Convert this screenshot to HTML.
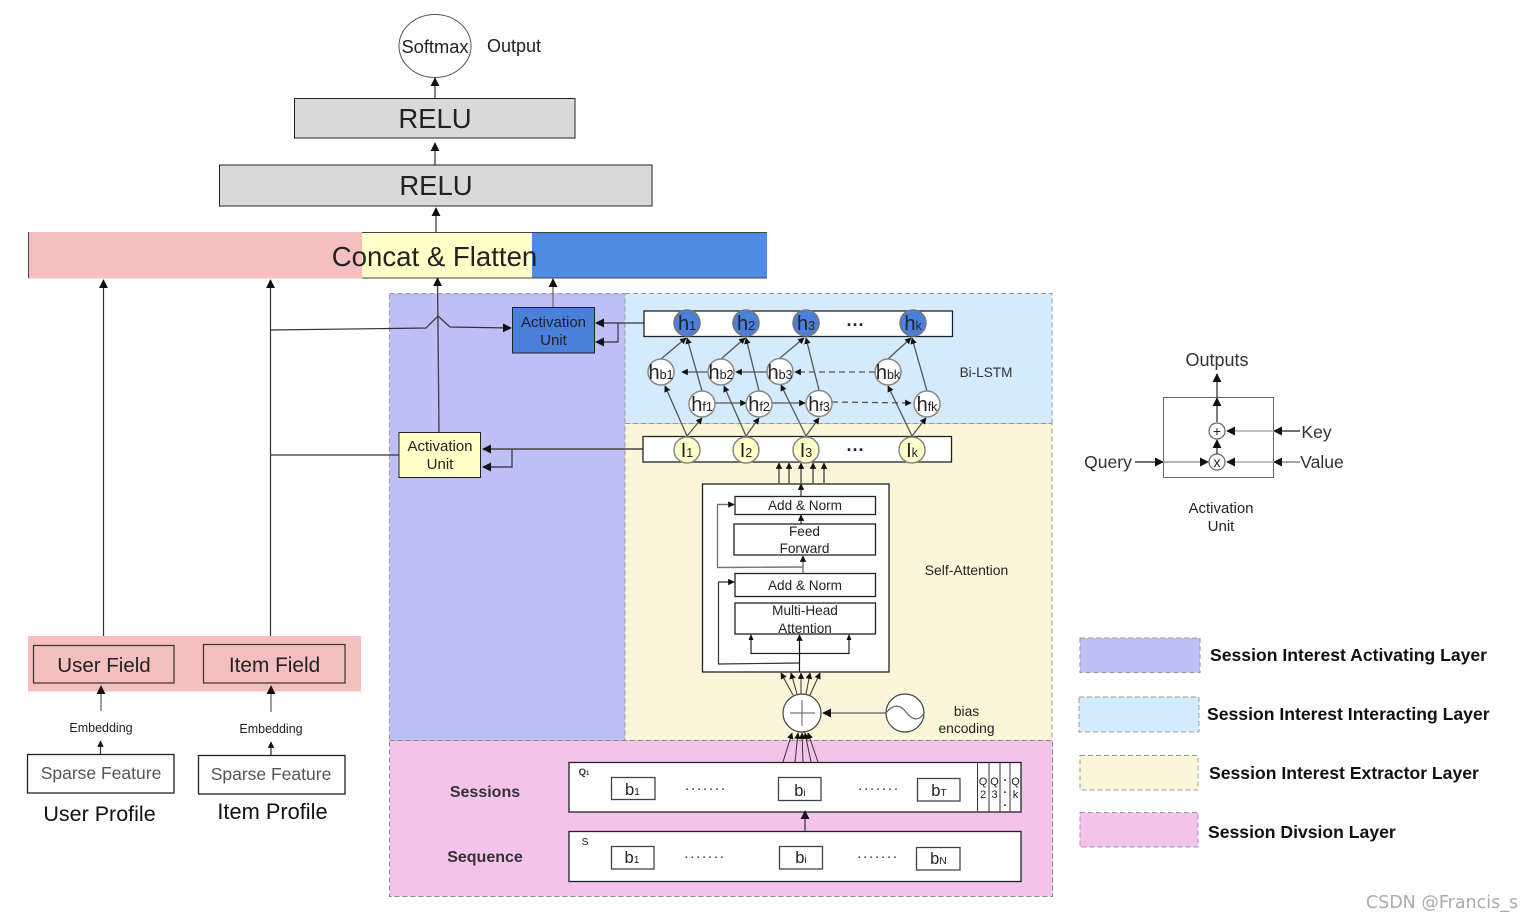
<!DOCTYPE html>
<html><head><meta charset="utf-8"><style>
html,body{margin:0;padding:0;background:#fff;width:1534px;height:922px;overflow:hidden}
svg{display:block;filter:blur(.35px)}
text{font-family:"Liberation Sans",sans-serif;fill:#222;text-anchor:middle}
.b{fill:#fff;stroke:#222;stroke-width:1.3}
.l{fill:none;stroke:#333;stroke-width:1.2}
.g{fill:none;stroke:#777;stroke-width:1.4}
.lg{font-weight:bold;font-size:17.6px;text-anchor:start;fill:#111}
.cw{fill:#fff;stroke:#888;stroke-width:1.5}
.cb{fill:#4a80dc;stroke:#777;stroke-width:1.5}
.cy{fill:#ffffc8;stroke:#888;stroke-width:1.5}
.n{font-size:20px}.s{font-size:12.500px}
</style></head><body>
<svg width="1534" height="922" viewBox="0 0 1534 922" xmlns="http://www.w3.org/2000/svg">
<defs>
<marker id="a" viewBox="0 0 10 10" refX="9" refY="5" markerWidth="9" markerHeight="9" markerUnits="userSpaceOnUse" orient="auto"><path d="M0 0L10 5L0 10z" fill="#111"/></marker>
<marker id="m" viewBox="0 0 10 10" refX="9" refY="5" markerWidth="6.5" markerHeight="6.5" markerUnits="userSpaceOnUse" orient="auto"><path d="M0 0L10 5L0 10z" fill="#111"/></marker>
</defs>

<!-- Regions -->
<rect x="389.5" y="293.5" width="236" height="447" fill="#bfbff8" stroke="#999" stroke-dasharray="5 3"/>
<rect x="625" y="293.5" width="427" height="130" fill="#d3ebfc" stroke="#999" stroke-dasharray="5 3"/>
<rect x="625" y="423.5" width="427" height="317" fill="#fbf6d9" stroke="#999" stroke-dasharray="5 3"/>
<rect x="389.5" y="740.5" width="663" height="156" fill="#f3c3ec" stroke="#888" stroke-dasharray="5 3"/>

<!-- Top stack -->
<ellipse cx="435" cy="46" rx="36" ry="31.5" fill="#fff" stroke="#555" stroke-width="1"/>
<text x="435" y="53" font-size="18.300">Softmax</text>
<text x="514" y="52" font-size="18">Output</text>
<line class="l" x1="435" y1="98" x2="435" y2="78" marker-end="url(#a)"/>
<rect x="294.5" y="98.5" width="280.5" height="39.5" fill="#d9d9d9" stroke="#222"/>
<text x="435" y="128" font-size="27.500">RELU</text>
<line class="l" x1="435" y1="165" x2="435" y2="143" marker-end="url(#a)"/>
<rect x="219.5" y="165" width="432.5" height="41" fill="#d9d9d9" stroke="#222"/>
<text x="436" y="195" font-size="27.500">RELU</text>
<line class="l" x1="436" y1="232" x2="436" y2="208" marker-end="url(#a)"/>

<!-- Concat -->
<rect x="28" y="232" width="334" height="46.5" fill="#f5bfbf"/>
<rect x="362" y="232" width="170" height="46" fill="#ffffc8"/>
<rect x="532" y="232" width="235" height="46" fill="#4f8ae5"/>
<line x1="362" y1="232.500" x2="767" y2="232.500" stroke="#444" stroke-width="1"/>
<line x1="362" y1="278" x2="767" y2="278" stroke="#444" stroke-width="1"/>
<line x1="28.500" y1="232" x2="28.500" y2="278" stroke="#444" stroke-width="1"/>
<text x="434.500" y="266" font-size="27.600">Concat &amp; Flatten</text>

<!-- Left column -->
<line class="l" x1="103.500" y1="645" x2="103.500" y2="280" marker-end="url(#a)"/>
<line class="l" x1="270.500" y1="644" x2="270.500" y2="280" marker-end="url(#a)"/>
<rect x="28" y="636" width="333" height="55.500" fill="#f5bfbf"/>
<rect x="33.500" y="645.500" width="140.500" height="37.500" fill="#f5bfbf" stroke="#333" stroke-width="1.2"/>
<rect x="203.500" y="644.500" width="141.500" height="38.500" fill="#f5bfbf" stroke="#333" stroke-width="1.2"/>
<text x="104" y="672" font-size="20.500">User Field</text>
<text x="274.500" y="672" font-size="20.800">Item Field</text>
<line class="g" x1="101" y1="711" x2="101" y2="686" marker-end="url(#a)"/>
<line class="g" x1="271" y1="712" x2="271" y2="686" marker-end="url(#a)"/>
<text x="101" y="732" font-size="12.500">Embedding</text>
<text x="271" y="733" font-size="12.500">Embedding</text>
<line class="l" x1="100.500" y1="754" x2="100.500" y2="741" marker-end="url(#m)"/>
<line class="l" x1="271" y1="755" x2="271" y2="742" marker-end="url(#m)"/>
<rect class="b" x="27.500" y="754.500" width="146.500" height="38.500"/>
<rect class="b" x="198.500" y="755.500" width="146.500" height="38.500"/>
<text x="101" y="779" font-size="17.500" style="fill:#555">Sparse Feature</text>
<text x="271" y="780" font-size="17.500" style="fill:#555">Sparse Feature</text>
<text x="99.500" y="821" font-size="21.500" style="fill:#111">User Profile</text>
<text x="272.500" y="819" font-size="21.800" style="fill:#111">Item Profile</text>

<!-- Activation units and their connectors -->
<path class="l" d="M270.500 330L426 328L438 316L450 327L511 328" marker-end="url(#a)"/>
<line class="l" x1="270.500" y1="455" x2="399" y2="455"/>
<line class="g" x1="439" y1="432" x2="437.500" y2="278" marker-end="url(#a)" style="stroke:#444"/>
<rect x="512.500" y="307.500" width="82" height="45.500" fill="#4a80dc" stroke="#222"/>
<text x="553.500" y="327" font-size="15">Activation</text>
<text x="553.500" y="345" font-size="15">Unit</text>
<line class="g" x1="553" y1="307" x2="553" y2="279" marker-end="url(#a)"/>
<rect x="399" y="432.500" width="81.500" height="45" fill="#ffffc8" stroke="#222"/>
<text x="440" y="451" font-size="15">Activation</text>
<text x="440" y="469" font-size="15">Unit</text>
<line class="l" x1="644" y1="323" x2="596" y2="323" marker-end="url(#a)"/>
<path class="l" d="M618 323V342H596" marker-end="url(#a)"/>
<line class="g" x1="643" y1="449" x2="483" y2="449" marker-end="url(#a)" style="stroke:#444"/>
<path class="g" d="M512 449V467H483" marker-end="url(#a)" style="stroke:#444"/>

<!-- h row -->
<rect class="b" x="644" y="311" width="308.500" height="25.500"/>
<rect class="b" x="643" y="436.500" width="308.500" height="25.500"/>

<!-- Bi-LSTM edges -->
<g class="g" style="stroke:#555;stroke-width:1.3">
<line x1="687" y1="436" x2="665" y2="386" marker-end="url(#m)"/>
<line x1="687" y1="436" x2="702" y2="418" marker-end="url(#m)"/>
<line x1="746" y1="436" x2="724" y2="386" marker-end="url(#m)"/>
<line x1="746" y1="436" x2="759" y2="418" marker-end="url(#m)"/>
<line x1="806" y1="436" x2="781" y2="385" marker-end="url(#m)"/>
<line x1="806" y1="436" x2="819" y2="418" marker-end="url(#m)"/>
<line x1="912" y1="436" x2="888" y2="386" marker-end="url(#m)"/>
<line x1="912" y1="436" x2="926" y2="418" marker-end="url(#m)"/>
<line x1="661" y1="359" x2="686" y2="338" marker-end="url(#m)"/>
<line x1="702" y1="391" x2="687" y2="338" marker-end="url(#m)"/>
<line x1="721" y1="359" x2="745" y2="338" marker-end="url(#m)"/>
<line x1="759" y1="391" x2="746" y2="338" marker-end="url(#m)"/>
<line x1="780" y1="358" x2="804" y2="338" marker-end="url(#m)"/>
<line x1="819" y1="390" x2="806" y2="338" marker-end="url(#m)"/>
<line x1="888" y1="359" x2="911" y2="338" marker-end="url(#m)"/>
<line x1="927" y1="391" x2="912" y2="338" marker-end="url(#m)"/>
<line x1="708" y1="372" x2="682" y2="372" marker-end="url(#m)"/>
<line x1="767" y1="372" x2="736" y2="372" marker-end="url(#m)"/>
<line x1="875" y1="372" x2="795" y2="372" stroke-dasharray="6 4" marker-end="url(#m)"/>
<line x1="715" y1="403" x2="746" y2="403" marker-end="url(#m)"/>
<line x1="772" y1="403" x2="805" y2="403" marker-end="url(#m)"/>
<line x1="832" y1="402" x2="911" y2="403" stroke-dasharray="6 4" marker-end="url(#m)"/>
</g>

<!-- h circles -->
<g class="t">
<circle class="cb" cx="687" cy="323" r="13"/><text x="687" y="330"><tspan class="n">h</tspan><tspan class="s">1</tspan></text>
<circle class="cb" cx="746" cy="323" r="13"/><text x="746" y="330"><tspan class="n">h</tspan><tspan class="s">2</tspan></text>
<circle class="cb" cx="806" cy="323" r="13"/><text x="806" y="330"><tspan class="n">h</tspan><tspan class="s">3</tspan></text>
<circle class="cb" cx="913" cy="323" r="13"/><text x="913" y="330"><tspan class="n">h</tspan><tspan class="s">k</tspan></text>
<text x="855.500" y="331" font-size="18" font-weight="bold">···</text>

<circle class="cw" cx="661" cy="372" r="13"/><text x="661" y="379"><tspan class="n">h</tspan><tspan class="s">b1</tspan></text>
<circle class="cw" cx="721" cy="372" r="13"/><text x="721" y="379"><tspan class="n">h</tspan><tspan class="s">b2</tspan></text>
<circle class="cw" cx="780" cy="371.500" r="13"/><text x="780" y="379"><tspan class="n">h</tspan><tspan class="s">b3</tspan></text>
<circle class="cw" cx="888" cy="372" r="13"/><text x="888" y="379"><tspan class="n">h</tspan><tspan class="s">bk</tspan></text>
<circle class="cw" cx="702" cy="404" r="13"/><text x="702" y="411"><tspan class="n">h</tspan><tspan class="s">f1</tspan></text>
<circle class="cw" cx="759" cy="404" r="13"/><text x="759" y="411"><tspan class="n">h</tspan><tspan class="s">f2</tspan></text>
<circle class="cw" cx="819" cy="403.500" r="13"/><text x="819" y="411"><tspan class="n">h</tspan><tspan class="s">f3</tspan></text>
<circle class="cw" cx="927" cy="404" r="13"/><text x="927" y="411"><tspan class="n">h</tspan><tspan class="s">fk</tspan></text>

<circle class="cy" cx="687" cy="450" r="13"/><text x="687" y="457"><tspan class="n">I</tspan><tspan class="s">1</tspan></text>
<circle class="cy" cx="746" cy="450" r="13"/><text x="746" y="457"><tspan class="n">I</tspan><tspan class="s">2</tspan></text>
<circle class="cy" cx="806" cy="450" r="13"/><text x="806" y="457"><tspan class="n">I</tspan><tspan class="s">3</tspan></text>
<circle class="cy" cx="912" cy="450" r="13"/><text x="912" y="457"><tspan class="n">I</tspan><tspan class="s">k</tspan></text>
<text x="855.500" y="456" font-size="18" font-weight="bold">···</text>
</g>
<text x="986" y="377" font-size="13.600" style="fill:#333">Bi-LSTM</text>

<!-- Self attention -->
<g class="l">
<line x1="779" y1="483" x2="779" y2="463" marker-end="url(#m)"/>
<line x1="789" y1="483" x2="789" y2="463" marker-end="url(#m)"/>
<line x1="801" y1="483" x2="801" y2="463" marker-end="url(#m)"/>
<line x1="813" y1="483" x2="813" y2="463" marker-end="url(#m)"/>
<line x1="824" y1="483" x2="824" y2="463" marker-end="url(#m)"/>
</g>
<rect class="b" x="702.500" y="484" width="186.500" height="188"/>
<line class="l" x1="801" y1="496" x2="801" y2="484" marker-end="url(#m)"/>
<rect class="b" x="735" y="496.500" width="140.500" height="18"/>
<line class="l" x1="801" y1="524" x2="801" y2="515" marker-end="url(#m)"/>
<rect class="b" x="734" y="524" width="141.500" height="31"/>
<rect class="b" x="735" y="573.500" width="140.500" height="23"/>
<rect class="b" x="735" y="603" width="140.500" height="31"/>
<line class="g" x1="803" y1="573" x2="803" y2="556" marker-end="url(#m)"/>
<path class="g" d="M803 567L717.500 567.500V504.500H734" marker-end="url(#m)"/>
<path class="l" d="M799 663L718.500 664V582H734" marker-end="url(#m)"/>
<line x1="799.500" y1="672" x2="799.500" y2="635" stroke="#111" stroke-width="1.2" marker-end="url(#m)"/>
<path d="M751 635V653.500H849V635" fill="none" stroke="#222" stroke-width="1.2"/>
<path d="M751 634l-2.500 6h5z M849 634l-2.500 6h5z" fill="#111"/>
<text x="805" y="510" font-size="13.600">Add &amp; Norm</text>
<text x="804.500" y="536" font-size="13.600">Feed</text>
<text x="804.500" y="553" font-size="13.600">Forward</text>
<text x="805" y="590" font-size="13.600">Add &amp; Norm</text>
<text x="805" y="615" font-size="13.600">Multi-Head</text>
<text x="805" y="633" font-size="13.600">Attention</text>
<text x="966.500" y="575" font-size="13.900">Self-Attention</text>

<!-- Plus and bias -->
<g class="l" style="stroke-width:1">
<line x1="793" y1="695" x2="781" y2="673" marker-end="url(#m)"/>
<line x1="797" y1="694" x2="791" y2="673" marker-end="url(#m)"/>
<line x1="801" y1="694" x2="801" y2="673" marker-end="url(#m)"/>
<line x1="806" y1="694" x2="810" y2="673" marker-end="url(#m)"/>
<line x1="810" y1="695" x2="820" y2="673" marker-end="url(#m)"/>
</g>
<circle cx="802" cy="713" r="19" fill="#fff" stroke="#444" stroke-width="1.2"/>
<path d="M802 700V726M790 713H815" stroke="#777" stroke-width="1.2" fill="none"/>
<line class="g" x1="886" y1="713" x2="823" y2="713" marker-end="url(#a)"/>
<circle cx="905" cy="713" r="19" fill="#fff" stroke="#444" stroke-width="1.2"/>
<path d="M886 713C893 704 900 704 906 712S919 722 924 713" fill="none" stroke="#666" stroke-width="1.2"/>
<text x="966.500" y="716" font-size="13.800">bias</text>
<text x="966.500" y="733" font-size="13.800">encoding</text>

<g class="l" style="stroke-width:1">
<line x1="783" y1="762" x2="792" y2="733" marker-end="url(#m)"/>
<line x1="795" y1="762" x2="798" y2="733" marker-end="url(#m)"/>
<line x1="803" y1="762" x2="802" y2="733" marker-end="url(#m)"/>
<line x1="811" y1="762" x2="805" y2="733" marker-end="url(#m)"/>
<line x1="818" y1="762" x2="808" y2="733" marker-end="url(#m)"/>
</g>

<!-- Sessions -->
<rect class="b" x="569" y="762.500" width="452" height="49.500"/>
<rect class="b" x="569" y="831.500" width="452" height="50"/>
<line class="l" x1="805" y1="831" x2="805" y2="811" marker-end="url(#a)"/>
<path d="M977.500 762V812M989 762V812M1000 762V812M1010 762V812" stroke="#333" stroke-width="1" fill="none"/>
<text x="584" y="775" font-size="9.500" font-weight="bold" style="fill:#333">Q<tspan font-size="6">1</tspan></text>
<text x="585" y="845" font-size="10.500">S</text>
<g class="b" style="stroke:#444">
<rect x="611.500" y="777.500" width="43.500" height="22"/>
<rect x="778.500" y="777.500" width="42.500" height="23"/>
<rect x="917.500" y="778.500" width="42.500" height="22.500"/>
<rect x="611.500" y="846.500" width="42.500" height="22.500"/>
<rect x="779.500" y="846.500" width="43" height="22.500"/>
<rect x="916.500" y="847.500" width="43.500" height="22.500"/>
</g>
<text x="632.500" y="795"><tspan font-size="16.500">b</tspan><tspan font-size="10.500">1</tspan></text>
<text x="800" y="796"><tspan font-size="16.500">b</tspan><tspan font-size="10.500">i</tspan></text>
<text x="939" y="796"><tspan font-size="16.500">b</tspan><tspan font-size="10.500">T</tspan></text>
<text x="632" y="863"><tspan font-size="16.500">b</tspan><tspan font-size="10.500">1</tspan></text>
<text x="801" y="863"><tspan font-size="16.500">b</tspan><tspan font-size="10.500">i</tspan></text>
<text x="938.500" y="864"><tspan font-size="16.500">b</tspan><tspan font-size="10.500">N</tspan></text>
<g font-size="15" style="letter-spacing:1.800px">
<text x="706" y="790" style="fill:#333">.......</text>
<text x="879" y="790" style="fill:#333">.......</text>
<text x="705" y="858" style="fill:#333">.......</text>
<text x="878" y="858" style="fill:#333">.......</text>
</g>
<g font-size="11" style="fill:#222">
<text x="983" y="785">Q</text><text x="983" y="798">2</text>
<text x="994.500" y="785">Q</text><text x="994.500" y="798">3</text>
<text x="1005" y="781" font-weight="bold">.</text><text x="1005" y="793" font-weight="bold">.</text><text x="1005" y="806" font-weight="bold">.</text>
<text x="1015.500" y="785">Q</text><text x="1015.500" y="798">k</text>
</g>
<text x="485" y="797" font-size="16" font-weight="bold" style="fill:#333">Sessions</text>
<text x="485" y="862" font-size="16" font-weight="bold" style="fill:#333">Sequence</text>

<!-- Activation Unit detail -->
<rect x="1163.500" y="397.500" width="110" height="80" fill="#fff" stroke="#666"/>
<text x="1217" y="366" font-size="18" style="fill:#333">Outputs</text>
<line class="g" x1="1217" y1="422" x2="1217" y2="398" style="stroke:#444" marker-end="url(#a)"/>
<line class="g" x1="1217" y1="398" x2="1217" y2="374" style="stroke:#444" marker-end="url(#a)"/>
<circle cx="1217" cy="431" r="8" fill="#fff" stroke="#666" stroke-width="1.2"/>
<text x="1217" y="436" font-size="14">+</text>
<circle cx="1217" cy="462" r="8" fill="#fff" stroke="#666" stroke-width="1.2"/>
<text x="1217" y="467" font-size="14">x</text>
<line class="g" x1="1217" y1="454" x2="1217" y2="440" style="stroke:#444" marker-end="url(#a)"/>
<line class="g" x1="1300" y1="431" x2="1274" y2="431" style="stroke:#444" marker-end="url(#a)"/>
<line class="g" x1="1274" y1="431" x2="1227" y2="431" style="stroke:#aaa" marker-end="url(#a)"/>
<line class="g" x1="1300" y1="462" x2="1274" y2="462" style="stroke:#888" marker-end="url(#a)"/>
<line class="g" x1="1274" y1="462" x2="1227" y2="462" style="stroke:#aaa" marker-end="url(#a)"/>
<line class="g" x1="1135" y1="462" x2="1163" y2="462" style="stroke:#444" marker-end="url(#a)"/>
<line class="g" x1="1163" y1="462" x2="1208" y2="462" style="stroke:#999" marker-end="url(#a)"/>
<text x="1108" y="468" font-size="17.500" style="fill:#333">Query</text>
<text x="1316.500" y="438" font-size="17.500" style="fill:#333">Key</text>
<text x="1322" y="468" font-size="17.500" style="fill:#333">Value</text>
<text x="1221" y="513" font-size="15">Activation</text>
<text x="1221" y="531" font-size="15">Unit</text>

<!-- Legend -->
<rect x="1080" y="638" width="120" height="34.500" fill="#bfbff8" stroke="#999" stroke-dasharray="5 3"/>
<rect x="1079" y="697" width="120" height="35" fill="#d3ebfc" stroke="#999" stroke-dasharray="5 3"/>
<rect x="1080" y="755.500" width="118" height="34.500" fill="#fbf6d9" stroke="#999" stroke-dasharray="5 3"/>
<rect x="1080" y="812.500" width="118" height="34.500" fill="#f3c3ec" stroke="#999" stroke-dasharray="5 3"/>
<text class="lg" x="1210" y="661">Session Interest Activating Layer</text>
<text class="lg" x="1207" y="720">Session Interest Interacting Layer</text>
<text class="lg" x="1209" y="779">Session Interest Extractor Layer</text>
<text class="lg" x="1208" y="838">Session Divsion Layer</text>

<text x="1442" y="908" style="fill:#aaa;font-family:'DejaVu Sans','Liberation Sans',sans-serif;font-size:17.500px">CSDN @Francis_s</text>
</svg>
</body></html>
